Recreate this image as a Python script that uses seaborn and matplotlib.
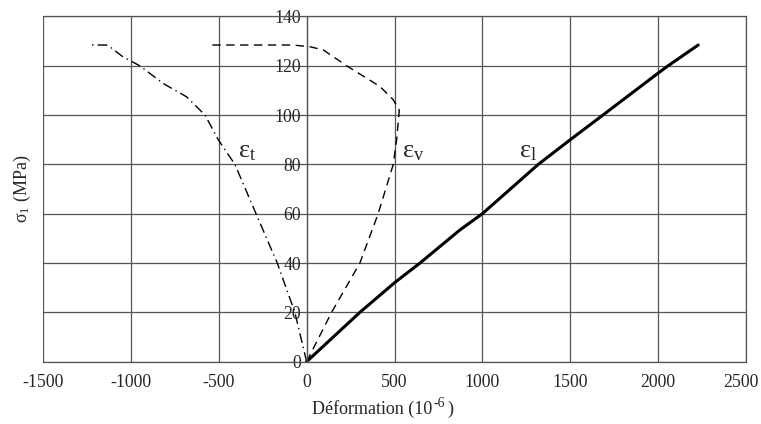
import pandas as pd
import matplotlib.pyplot as plt
import matplotlib.transforms as mtransforms
import seaborn as sns

# strain (1e-6) / stress (MPa), in path order
eps_l_x = [0, 303, 500, 645, 872, 1000, 1318, 1500, 1686, 2000, 2057, 2228]
eps_l_y = [0, 20, 32, 40, 53.4, 60, 80, 90, 100, 117, 120, 128.4]

eps_v_x = [0, 142, 303, 407, 493, 512, 525, 527, 493, 417, 227, 95, 19, -80, -560]
eps_v_y = [0, 20, 40, 60, 80, 90, 100, 102, 106.2, 111.6, 120, 126.4, 127.7, 128.4, 128.4]

eps_t_x = [0, -67, -167, -288, -408, -503, -578, -683, -816, -950, -1045, -1120, -1140, -1223]
eps_t_y = [0, 20, 40, 60, 80, 90, 100, 107.4, 112.8, 120, 123.6, 127.7, 128.4, 128.4]

x_ticks = [-1500, -1000, -500, 0, 500, 1000, 1500, 2000, 2500]
y_ticks = [0, 20, 40, 60, 80, 100, 120, 140]

sns.set_style("white")
plt.rcParams['font.family'] = ['Liberation Serif', 'DejaVu Serif']
plt.rcParams['mathtext.fontset'] = 'custom'
plt.rcParams['mathtext.rm'] = 'Liberation Serif'
plt.rcParams['mathtext.it'] = 'Liberation Serif:italic'
plt.rcParams['axes.unicode_minus'] = False

fig = plt.figure(figsize=(7.61, 4.24), dpi=100)
ax = fig.add_axes([0.0565, 0.147, 0.9238, 0.8143])

df_l = pd.DataFrame({"x": eps_l_x, "y": eps_l_y})
df_v = pd.DataFrame({"x": eps_v_x, "y": eps_v_y})
df_t = pd.DataFrame({"x": eps_t_x, "y": eps_t_y})

sns.lineplot(data=df_l, x="x", y="y", sort=False, estimator=None,
             color="black", linewidth=2.2, ax=ax)
sns.lineplot(data=df_v, x="x", y="y", sort=False, estimator=None,
             color="black", linewidth=1.0, ax=ax)
sns.lineplot(data=df_t, x="x", y="y", sort=False, estimator=None,
             color="black", linewidth=1.0, ax=ax)
ax.lines[1].set_dashes([6, 4])
ax.lines[2].set_dashes([7, 3, 1, 3])

ax.set_xlim(-1500, 2500)
ax.set_ylim(0, 140)
ax.set_xticks(x_ticks)
ax.set_yticks(y_ticks)
ax.grid(True, color="#555555", linewidth=0.9)
ax.set_axisbelow(True)

for s in ax.spines.values():
    s.set_color("#555555")
    s.set_linewidth(0.9)
ax.spines['left'].set_position(('data', 0))

ax.tick_params(axis='both', length=0, labelsize=12.8)
ax.tick_params(axis='y', pad=4)
ax.tick_params(axis='x', pad=9)

# last x label sits a little left so it stays inside the figure
last = ax.get_xticklabels()[-1]
last.set_transform(last.get_transform() +
                   mtransforms.ScaledTranslation(-5 / 100, 0, fig.dpi_scale_trans))

ax.set_xlabel('')
ax.set_ylabel('')
fig.text(22 / 761, 1 - 189 / 424, r'$\mathrm{\sigma}_{\mathrm{1}}$ (MPa)',
         rotation=90, ha='center', va='center', fontsize=13)

# x label with a plain hyphen in the superscript
t1 = fig.text(312 / 761, 1 - 414 / 424, 'Déformation (10', ha='left',
              va='baseline', fontsize=13)
t2 = ax.annotate('-6', xy=(1, 1), xycoords=t1, xytext=(0.8, 2),
                 textcoords='offset points', ha='left', va='top',
                 fontsize=10, annotation_clip=False)
ax.annotate(')', xy=(1, 0), xycoords=(t2, t1), xytext=(1.5, 0),
            textcoords='offset points', ha='left', va='bottom',
            fontsize=13, annotation_clip=False)

ax.text(-390, 83, r'$\mathrm{\varepsilon}_{\mathrm{t}}$', fontsize=19)
ax.text(545, 83, r'$\mathrm{\varepsilon}_{\mathrm{v}}$', fontsize=19)
ax.text(1210, 83, r'$\mathrm{\varepsilon}_{\mathrm{l}}$', fontsize=19)

fig.savefig("out.png", dpi=100)
